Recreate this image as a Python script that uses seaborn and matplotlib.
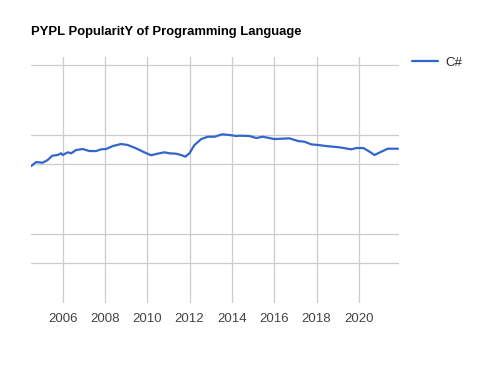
import pandas as pd
import matplotlib
matplotlib.use("Agg")
import matplotlib.pyplot as plt
import seaborn as sns
from matplotlib.ticker import FixedLocator, NullFormatter

# datos (PYPL, C#)
anios = [2004.51, 2004.74, 2005.05, 2005.29, 2005.50, 2005.76, 2005.92, 2006.00,
         2006.24, 2006.40, 2006.63, 2006.95, 2007.26, 2007.58, 2007.82, 2008.05,
         2008.37, 2008.76, 2009.07, 2009.47, 2009.86, 2010.18, 2010.42, 2010.81,
         2011.05, 2011.36, 2011.60, 2011.80, 2011.99, 2012.23, 2012.55, 2012.86,
         2013.18, 2013.54, 2013.89, 2014.20, 2014.36, 2014.83, 2015.15, 2015.46,
         2016.01, 2016.72, 2017.12, 2017.43, 2017.75, 2018.06, 2018.46, 2019.09,
         2019.64, 2019.88, 2020.22, 2020.51, 2020.74, 2021.06, 2021.37, 2021.85]
csharp = [4.80, 5.27, 5.19, 5.53, 6.11, 6.21, 6.46, 6.21,
          6.61, 6.46, 6.97, 7.14, 6.81, 6.81, 7.09, 7.14,
          7.65, 8.02, 7.84, 7.25, 6.61, 6.17, 6.36, 6.61,
          6.46, 6.40, 6.21, 5.97, 6.46, 7.84, 9.00, 9.50,
          9.50, 10.05, 9.89, 9.66, 9.73, 9.66, 9.22, 9.50,
          9.00, 9.15, 8.60, 8.46, 7.96, 7.84, 7.65, 7.42,
          7.09, 7.30, 7.30, 6.70, 6.21, 6.70, 7.19, 7.19]
lineas_y = [0.5, 1, 5, 10, 50]
anios_ticks = [2006, 2008, 2010, 2012, 2014, 2016, 2018, 2020]
anios_menores = [2005, 2007, 2009, 2011, 2013, 2015, 2017, 2019, 2021]

df = pd.DataFrame({"Fecha": anios, "Valor": csharp, "Lenguaje": "C#"})

sns.set_style("white")
plt.rcParams["font.family"] = ["Liberation Sans", "DejaVu Sans"]

fig = plt.figure(figsize=(4.91, 3.67), dpi=100)
ax = fig.add_axes([31 / 491, 1 - 303 / 367, 368 / 491, 246 / 367])

sns.lineplot(data=df, x="Fecha", y="Valor", hue="Lenguaje", palette=["#3366cc"],
             linewidth=1.6, ax=ax, legend=True)

ax.set_yscale("log")
ax.set_ylim(0.1986, 60.7)
ax.set_xlim(2004.5, 2021.9)
ax.yaxis.set_major_locator(FixedLocator(lineas_y))
ax.yaxis.set_minor_locator(FixedLocator([]))
ax.yaxis.set_major_formatter(NullFormatter())
ax.set_xticks(anios_ticks)
ax.set_xticks(anios_menores, minor=True)
ax.set_xticklabels([str(a) for a in anios_ticks])
ax.grid(True, which="major", color="#cccccc", linewidth=0.9)
ax.set_axisbelow(True)
ax.tick_params(axis="x", which="major", length=0, pad=7.5, labelsize=9.5, labelcolor="#444444")
ax.tick_params(axis="x", which="minor", length=3, width=0.8, color="#cccccc")
ax.tick_params(axis="y", length=0)
for s in ax.spines.values():
    s.set_visible(False)
ax.set_xlabel("")
ax.set_ylabel("")

ax.legend(loc="center left", bbox_to_anchor=(412 / 491, 1 - 63 / 367),
          bbox_transform=fig.transFigure, frameon=False, fontsize=9.5,
          handlelength=2.0, handletextpad=0.5, borderaxespad=0, borderpad=0)

fig.text(31 / 491, 1 - 31.5 / 367, "PYPL PopularitY of Programming Language",
         fontsize=9.4, fontweight="bold", color="#000000", va="center", ha="left")

fig.savefig("out.png", dpi=100)
